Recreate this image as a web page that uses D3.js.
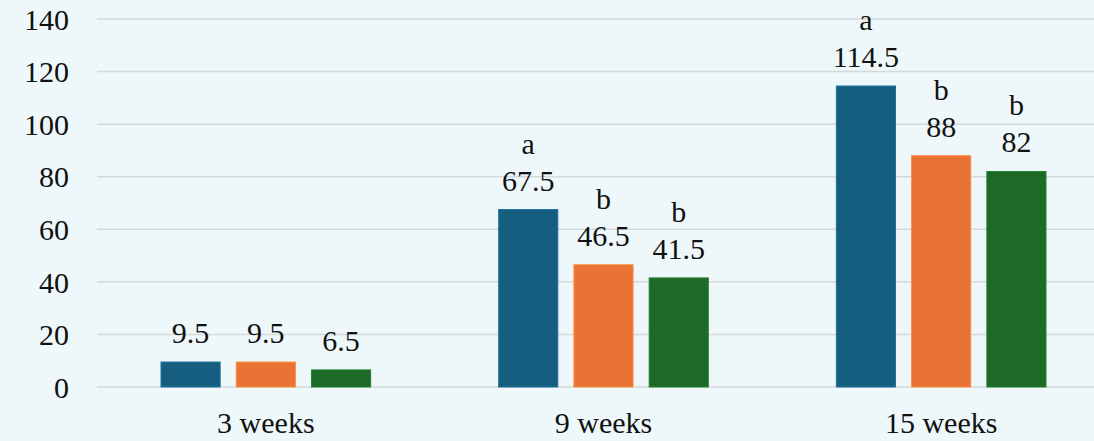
<!DOCTYPE html>
<html>
<head>
<meta charset="utf-8">
<script src="https://cdn.jsdelivr.net/npm/d3@7"></script>
</head>
<body style="margin:0;background:#eef8fa">
<svg id="chart" width="1094" height="441" style="display:block"></svg>
<script>
// Growth periods on the x axis
const categories = ["3 weeks", "9 weeks", "15 weeks"];
// Three treatment series (values per period)
const seriesA = [9.5, 67.5, 114.5];
const seriesB = [9.5, 46.5, 88];
const seriesC = [6.5, 41.5, 82];
// Significance letters shown above the values
const lettersA = ["", "a", "a"];
const lettersB = ["", "b", "b"];
const lettersC = ["", "b", "b"];
const yTicks = [0, 20, 40, 60, 80, 100, 120, 140];

const series = [
  { key: "A", values: seriesA, letters: lettersA, color: "#165e7f" },
  { key: "B", values: seriesB, letters: lettersB, color: "#e97335" },
  { key: "C", values: seriesC, letters: lettersC, color: "#1d6a27" }
];

const FONT = "Liberation Serif";
const FONT_SIZE = 30;

// Apply the serif label font to a text selection
function serif(sel) {
  sel.attr("font-family", FONT)
    .attr("font-size", FONT_SIZE)
    .attr("fill", "#111")
    .style("font-family", "'Liberation Serif', 'Times New Roman', serif", "important")
    .style("font-size", FONT_SIZE + "px", "important");
  return sel;
}

const svg = d3.select("#chart");
const plotLeft = 97, plotRight = 1110, plotTop = 19, plotBottom = 387;

const x0 = d3.scaleBand().domain(categories).range([plotLeft, plotRight]).paddingInner(0).paddingOuter(0);
const x1 = d3.scaleBand().domain(series.map(s => s.key))
  .range([64, x0.bandwidth() - 64]).paddingInner(0.214).paddingOuter(0);
const y = d3.scaleLinear().domain([0, 140]).range([plotBottom, plotTop]);

svg.append("rect").attr("width", 1094).attr("height", 441).attr("fill", "#eef8fa");

// Horizontal gridlines
svg.append("g")
  .selectAll("line")
  .data(yTicks)
  .join("line")
  .attr("x1", plotLeft).attr("x2", 1094)
  .attr("y1", d => y(d)).attr("y2", d => y(d))
  .attr("stroke", "#d6d9da").attr("stroke-width", 1.5);

// Y axis tick labels
const yAxis = d3.axisLeft(y).tickValues(yTicks).tickSize(0).tickPadding(0);
const gy = svg.append("g").attr("transform", "translate(69,0)").call(yAxis);
gy.select(".domain").remove();
gy.selectAll("text").call(serif).attr("dy", "0.34em");

// X axis category labels
const xAxis = d3.axisBottom(x0).tickSize(0).tickPadding(0);
const gx = svg.append("g").attr("transform", `translate(0,${plotBottom})`).call(xAxis);
gx.select(".domain").remove();
gx.selectAll("text").call(serif).attr("y", 46).attr("dy", 0);

// Bars, values and letters
const groups = svg.append("g")
  .selectAll("g")
  .data(categories)
  .join("g")
  .attr("transform", d => `translate(${x0(d)},0)`);

groups.each(function(cat, i) {
  const g = d3.select(this);
  series.forEach(s => {
    const v = s.values[i];
    const bx = x1(s.key), bw = x1.bandwidth();
    g.append("rect")
      .attr("x", bx).attr("y", y(v))
      .attr("width", bw).attr("height", y(0) - y(v))
      .attr("fill", s.color)
      .attr("stroke", d3.color(s.color).brighter(0.6))
      .attr("stroke-width", 1);
    g.append("text")
      .attr("x", bx + bw / 2).attr("y", y(v) - 19)
      .attr("text-anchor", "middle")
      .call(serif)
      .text(v);
    if (s.letters[i]) {
      g.append("text")
        .attr("x", bx + bw / 2).attr("y", y(v) - 56)
        .attr("text-anchor", "middle")
        .call(serif)
        .text(s.letters[i]);
    }
  });
});
</script>
</body>
</html>
